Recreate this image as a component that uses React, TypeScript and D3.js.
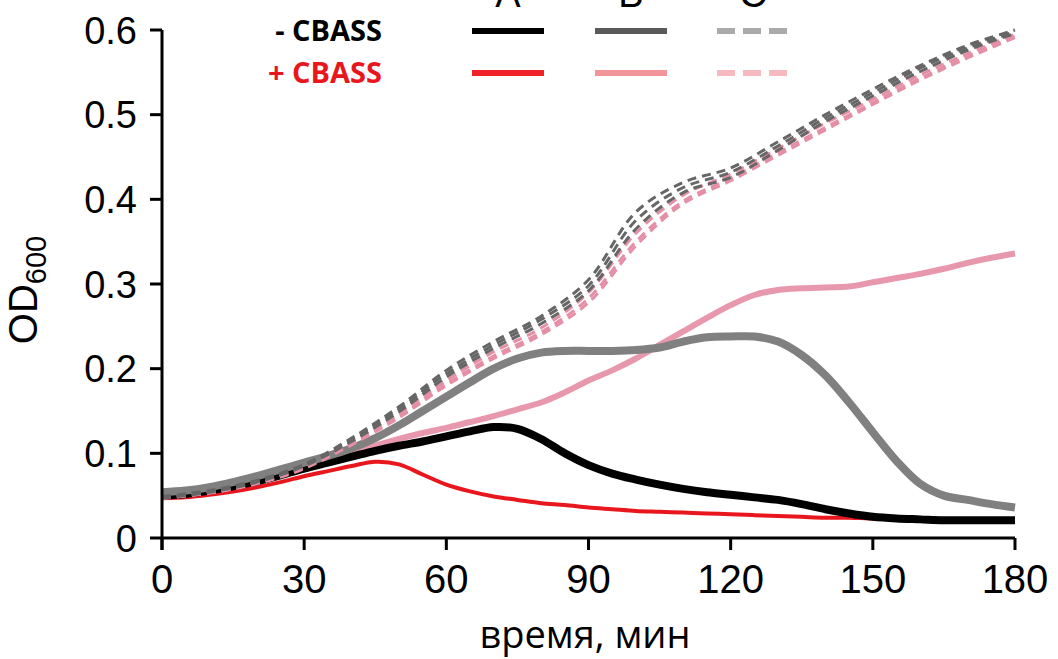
import React from "react";
import * as d3 from "d3";

// time grid (min) for solid curves
const time5 = [0,5,10,15,20,25,30,35,40,45,50,55,60,65,70,75,80,85,90,95,100,105,110,115,120,125,130,135,140,145,150,155,160,165,170,175,180];
// time grid (min) for dashed replicates
const time10 = [0,10,20,30,40,50,60,70,80,90,100,110,120,130,140,150,160,170,180];

// A, - CBASS (black)
const seriesAminus = [.050,.052,.056,.061,.067,.074,.082,.089,.096,.103,.109,.114,.120,.126,.131,.129,.117,.100,.086,.076,.069,.063,.058,.054,.051,.048,.045,.040,.034,.029,.025,.023,.022,.021,.021,.021,.021];
// A, + CBASS (red)
const seriesAplus = [.047,.048,.051,.055,.060,.066,.073,.079,.085,.090,.087,.075,.063,.055,.049,.045,.041,.039,.036,.034,.032,.031,.030,.029,.028,.027,.026,.025,.024,.024,.023,.023,.022,.022,.022,.022,.022];
// B, - CBASS (grey)
const seriesBminus = [.054,.056,.060,.066,.073,.081,.089,.097,.106,.118,.133,.150,.167,.184,.200,.212,.219,.221,.221,.221,.222,.225,.232,.237,.238,.238,.232,.216,.192,.160,.125,.091,.064,.050,.045,.040,.036];
// B, + CBASS (pink)
const seriesBplus = [.050,.052,.056,.061,.067,.074,.081,.089,.100,.109,.117,.124,.130,.137,.144,.152,.160,.172,.186,.198,.212,.228,.244,.260,.275,.287,.293,.295,.296,.297,.302,.307,.312,.318,.325,.331,.336];
// C, - CBASS (grey dashed) three replicates
const seriesCminus1 = [.049,.056,.068,.087,.118,.155,.198,.232,.262,.305,.385,.420,.437,.468,.500,.530,.558,.582,.600];
const seriesCminus2 = [.048,.055,.067,.086,.116,.152,.194,.228,.258,.298,.375,.414,.432,.463,.496,.526,.555,.579,.598];
const seriesCminus3 = [.047,.054,.066,.085,.114,.149,.190,.224,.253,.292,.365,.408,.426,.458,.492,.522,.551,.576,.596];
// C, + CBASS (pink dashed) three replicates
const seriesCplus1 = [.048,.054,.066,.084,.113,.147,.186,.220,.248,.290,.360,.405,.430,.460,.490,.518,.547,.572,.595];
const seriesCplus2 = [.047,.053,.065,.083,.111,.144,.182,.215,.243,.283,.350,.398,.425,.455,.485,.514,.543,.569,.593];
const seriesCplus3 = [.047,.053,.064,.082,.110,.142,.180,.212,.240,.278,.345,.395,.422,.452,.482,.512,.541,.567,.591];

const xTicks = [0,30,60,90,120,150,180];
const yTicks = [0,0.1,0.2,0.3,0.4,0.5,0.6];
const legendCols = ["A","B","C"];
const legendRows = ["- CBASS","+ CBASS"];

export default function App() {
  const W = 1058, H = 659;
  const x = d3.scaleLinear().domain([0,180]).range([162,1015]);
  const y = d3.scaleLinear().domain([0,0.6]).range([538,30]);
  const mk = (ts: number[]) => d3.line<number>().x((_, i) => x(ts[i])).y(d => y(d)).curve(d3.curveCatmullRom.alpha(0.5));
  const l5 = mk(time5);
  const l10 = mk(time10);
  const sans = "'Liberation Sans', Arial, sans-serif";
  const open = "'Open Sans', sans-serif";

  const solids = [
    { d: seriesAplus, c: "#e8161d", w: 4 },
    { d: seriesBplus, c: "#e898ad", w: 6 },
    { d: seriesAminus, c: "#000000", w: 8 },
    { d: seriesBminus, c: "#808080", w: 8 },
  ];
  const dashed = [
    { d: seriesCplus1, c: "#e58fa6" },
    { d: seriesCplus2, c: "#e58fa6" },
    { d: seriesCplus3, c: "#e58fa6" },
    { d: seriesCminus1, c: "#666666" },
    { d: seriesCminus2, c: "#666666" },
    { d: seriesCminus3, c: "#666666" },
  ];
  const legX = [472, 595, 717];
  const legW = 72;
  const legY = [31, 73];
  const legColors = [["#000000","#f0232a"],["#5a5a5a","#f2959b"],["#aaaaaa","#f5b9bf"]];

  return (
    <svg width={W} height={H} style={{ position: "absolute", left: 0, top: 0, background: "#fff" }}>
      {/* lines */}
      {solids.map((s, i) => (
        <path key={"s"+i} d={l5(s.d) || ""} fill="none" stroke={s.c} strokeWidth={s.w} strokeLinejoin="round" />
      ))}
      {dashed.map((s, i) => (
        <path key={"d"+i} d={l10(s.d) || ""} fill="none" stroke={s.c} strokeWidth={3} strokeDasharray="9,6" />
      ))}

      {/* axes */}
      <line x1={162} x2={162} y1={y(0.6)} y2={y(0)+12} stroke="#000" strokeWidth={3} />
      <line x1={162} x2={x(180)} y1={538} y2={538} stroke="#000" strokeWidth={3} />
      {yTicks.map(t => (
        <g key={"y"+t}>
          <line x1={150} x2={162} y1={y(t)} y2={y(t)} stroke="#000" strokeWidth={3} />
          <text x={137} y={y(t)} dy="0.36em" textAnchor="end" fontFamily={sans} fontSize={38}>{t === 0 ? "0" : t.toFixed(1)}</text>
        </g>
      ))}
      {xTicks.map(t => (
        <g key={"x"+t}>
          <line x1={x(t)} x2={x(t)} y1={538} y2={550} stroke="#000" strokeWidth={3} />
          <text x={x(t)} y={593} textAnchor="middle" fontFamily={sans} fontSize={40}>{t}</text>
        </g>
      ))}
      <text transform="translate(37,290) rotate(-90)" textAnchor="middle" fontFamily={sans} fontSize={40}>
        OD<tspan fontSize={29} dy="9">600</tspan>
      </text>
      <text x={585} y={648} textAnchor="middle" fontFamily={open} fontSize={38}>время, мин</text>

      {/* legend */}
      {legendCols.map((c, i) => (
        <text key={"lc"+c} x={legX[i] + legW/2} y={7} textAnchor="middle" fontFamily={sans} fontSize={38}>{c}</text>
      ))}
      {legendRows.map((r, j) => (
        <text key={"lr"+j} x={382} y={legY[j] + 10} textAnchor="end" fontFamily={open} fontWeight={700} fontSize={29} fill={j === 0 ? "#000" : "#e8161d"}>{r}</text>
      ))}
      {legendCols.map((c, i) => legY.map((ly, j) => (
        <line key={"ll"+i+j} x1={legX[i]} x2={legX[i]+legW} y1={ly} y2={ly} stroke={legColors[i][j]} strokeWidth={6}
          strokeDasharray={i === 2 ? "18,8" : undefined} />
      )))}
    </svg>
  );
}
